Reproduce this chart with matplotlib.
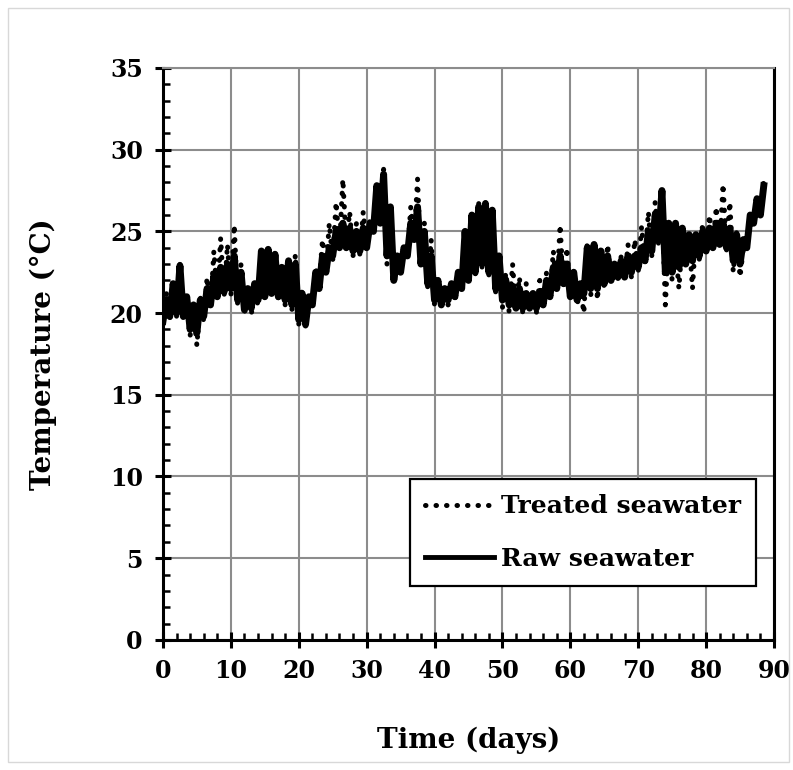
import numpy as np
import matplotlib
matplotlib.use("Agg")
import matplotlib.pyplot as plt
from matplotlib.ticker import MultipleLocator
from matplotlib.patches import Rectangle

# daily low / high readings, day 0 .. 88 (deg C)
days = list(range(89))

raw_lo = [19.5, 19.8, 20.0, 19.8, 19.0, 18.8, 19.8, 20.5, 21.0, 21.3,
          21.5, 20.8, 20.2, 20.3, 20.8, 21.0, 21.2, 21.0, 20.8, 20.5,
          19.6, 19.3, 20.5, 21.5, 22.5, 23.5, 24.0, 24.0, 23.8, 23.8,
          24.0, 25.0, 25.5, 23.5, 22.0, 22.5, 23.5, 24.5, 23.0, 21.8,
          20.8, 20.5, 20.8, 21.0, 21.5, 22.0, 22.5, 23.0, 22.5, 21.5,
          20.8, 20.5, 20.3, 20.3, 20.3, 20.3, 20.5, 21.0, 21.5, 21.8,
          21.0, 20.8, 21.2, 21.5, 21.5, 21.8, 22.0, 22.2, 22.2, 22.5,
          22.8, 23.2, 23.8, 24.5, 22.5, 22.5, 22.8, 23.0, 23.2, 23.5,
          23.8, 24.0, 24.2, 24.0, 23.2, 23.0, 24.0, 25.5, 26.0]
raw_hi = [20.8, 21.8, 22.9, 21.0, 20.5, 20.8, 21.5, 22.3, 22.8, 23.0,
          23.5, 22.5, 21.5, 21.8, 23.8, 23.9, 23.6, 22.8, 23.2, 23.0,
          21.2, 21.0, 22.5, 23.5, 24.0, 25.0, 25.5, 25.2, 25.0, 25.2,
          25.5, 27.8, 28.5, 26.5, 23.5, 24.0, 25.5, 26.5, 25.0, 23.5,
          22.0, 21.5, 21.8, 22.5, 25.0, 26.0, 26.5, 26.7, 26.3, 23.5,
          22.0, 21.5, 21.5, 21.2, 21.2, 21.3, 22.0, 22.8, 23.5, 23.0,
          22.5, 21.8, 24.0, 24.2, 23.8, 23.5, 23.0, 23.2, 23.5, 23.5,
          24.0, 25.0, 26.0, 27.5, 25.5, 25.5, 25.2, 24.8, 24.8, 25.0,
          25.2, 25.5, 25.5, 25.2, 24.8, 24.5, 26.0, 27.0, 27.8]

treated_lo = [19.3, 19.5, 19.8, 19.5, 18.6, 18.0, 19.5, 20.2, 21.0, 21.0,
              21.0, 20.5, 20.0, 19.9, 20.5, 21.0, 21.0, 20.8, 20.5, 20.2,
              19.3, 19.2, 20.5, 21.8, 22.5, 23.2, 24.0, 24.2, 23.5, 23.6,
              24.0, 25.0, 25.3, 23.0, 22.0, 22.5, 23.5, 24.5, 23.0, 21.5,
              20.5, 20.3, 20.5, 20.8, 21.5, 22.0, 22.2, 22.8, 22.3, 21.3,
              20.3, 20.0, 20.1, 20.0, 20.2, 20.0, 20.3, 21.0, 21.5, 21.5,
              21.0, 20.5, 20.0, 21.0, 20.8, 21.5, 21.8, 22.0, 22.0, 22.2,
              22.5, 23.0, 23.5, 24.2, 20.5, 22.0, 21.5, 22.8, 21.5, 23.3,
              23.5, 24.0, 24.0, 23.8, 22.5, 22.2, 24.0, 25.5, 26.0]
treated_hi = [21.2, 22.0, 23.0, 20.8, 20.3, 21.0, 22.2, 23.8, 24.6, 24.2,
              25.4, 23.0, 21.2, 21.3, 23.2, 23.5, 23.0, 22.5, 23.2, 23.6,
              21.5, 20.8, 22.8, 24.5, 25.5, 26.8, 28.2, 26.2, 25.5, 26.2,
              25.8, 28.0, 28.8, 26.0, 23.6, 24.0, 26.5, 28.2, 25.5, 24.5,
              21.8, 21.5, 21.5, 22.0, 24.5, 25.5, 26.8, 27.0, 26.0, 23.0,
              22.5, 23.0, 22.2, 21.8, 21.5, 22.0, 22.5, 23.8, 25.4, 24.0,
              22.5, 21.5, 24.4, 24.0, 24.0, 24.2, 23.0, 23.5, 24.2, 24.5,
              25.3, 26.2, 26.8, 26.8, 24.5, 24.0, 24.5, 24.5, 25.0, 25.5,
              26.0, 26.5, 27.9, 26.8, 25.0, 24.0, 25.8, 27.0, 28.1]

# interleave lows and highs (low at start of day, high half a day later)
d = np.array(days, dtype=float)
t = np.column_stack([d, d + 0.5]).ravel()
raw = np.column_stack([raw_lo, raw_hi]).ravel()
treated = np.column_stack([treated_lo, treated_hi]).ravel()

plt.rcParams['font.family'] = ['DejaVu Serif']
plt.rcParams['font.weight'] = 'bold'

fig = plt.figure(figsize=(7.93, 7.70), dpi=100)
ax = fig.add_axes([0.2055, 0.169, 0.7705, 0.7427])

# light frame around the whole figure
fig.patches.append(Rectangle((0.01, 0.01), 0.985, 0.98, transform=fig.transFigure,
                             fill=False, edgecolor='#d8d8d8', lw=1))

ax.plot(t, treated, color='black', lw=3.6, linestyle=(0, (0.1, 2.0)),
        dash_capstyle='round', label='Treated seawater', zorder=3)
ax.plot(t, raw, color='black', lw=5.0, label='Raw seawater', zorder=4)

ax.set_xlim(0, 90)
ax.set_ylim(0, 35)
ax.xaxis.set_major_locator(MultipleLocator(10))
ax.xaxis.set_minor_locator(MultipleLocator(2))
ax.yaxis.set_major_locator(MultipleLocator(5))
ax.yaxis.set_minor_locator(MultipleLocator(1))
ax.grid(True, which='major', color='#8c8c8c', lw=1.5)
ax.set_axisbelow(True)

ax.tick_params(which='major', direction='inout', length=11, width=2.2,
               labelsize=17)
ax.tick_params(axis='x', which='major', pad=8)
ax.tick_params(axis='y', which='major', pad=9)
ax.tick_params(which='minor', direction='in', length=5, width=1.8)
for lab in ax.get_xticklabels() + ax.get_yticklabels():
    lab.set_fontweight('bold')

for side in ['left', 'bottom', 'right']:
    ax.spines[side].set_linewidth(2.2)
    ax.spines[side].set_color('black')
ax.spines['top'].set_color('#8c8c8c')
ax.spines['top'].set_linewidth(1.5)

ax.set_xlabel('Time (days)', fontsize=20, fontweight='bold', labelpad=32)
ax.set_ylabel('Temperature (°C)', fontsize=20, fontweight='bold', labelpad=38)

leg = ax.legend(loc='lower left', bbox_to_anchor=(0.404, 0.094),
                frameon=True, fancybox=False, edgecolor='black', framealpha=1,
                handlelength=2.75, handletextpad=0.3, borderpad=0.6,
                labelspacing=1.15, borderaxespad=0,
                prop={'weight': 'bold', 'size': 18})
leg.get_frame().set_linewidth(1.6)
leg.get_lines()[1].set_linewidth(3.5)

fig.savefig('out.png', dpi=100)
